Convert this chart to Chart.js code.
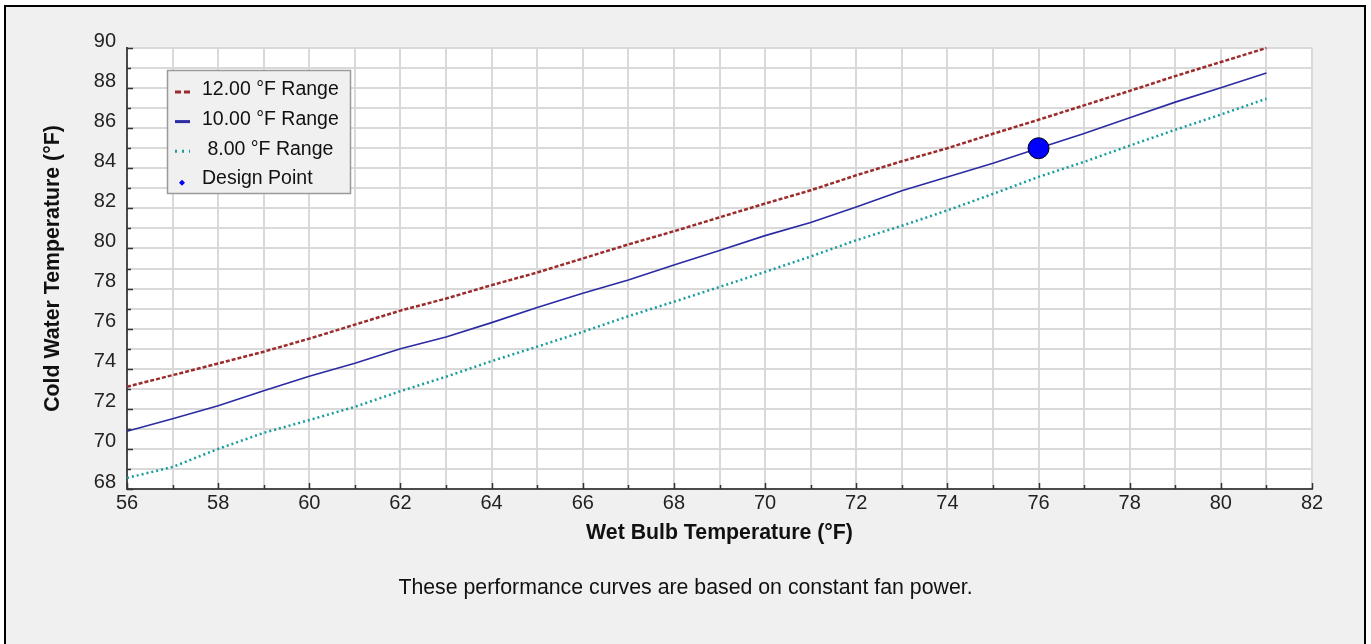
<!DOCTYPE html>
<html>
<head>
<meta charset="utf-8">
<title>Cold Water Temperature vs Wet Bulb</title>
<script src="https://cdn.jsdelivr.net/npm/chart.js@4.4.1/dist/chart.umd.min.js"></script>
<style>
  body { margin: 0; background: #fff; width: 1371px; height: 644px; overflow: hidden; position: relative; font-family: "Liberation Sans", Arial, sans-serif; }
  #moldura { position: absolute; left: 4px; top: 5px; width: 1358px; height: 660px; border: 2px solid #000; background: #f0f0f0; }
  #grafico { position: absolute; left: 0; top: 0; }
  #nota { position: absolute; left: 0; width: 1371px; top: 575px; text-align: center; font-size: 21.3px; color: #111; }
</style>
</head>
<body>
<div id="moldura"></div>
<canvas id="grafico" width="1371" height="644"></canvas>
<div id="nota">These performance curves are based on constant fan power.</div>
<script>
// Data
const wetBulbTemps = [56, 57, 58, 59, 60, 61, 62, 63, 64, 65, 66, 67, 68, 69, 70, 71, 72, 73, 74, 75, 76, 77, 78, 79, 80, 81];
const range12 = [73.1, 73.68, 74.26, 74.85, 75.5, 76.2, 76.9, 77.5, 78.17, 78.8, 79.5, 80.2, 80.86, 81.55, 82.24, 82.9, 83.65, 84.35, 85.0, 85.72, 86.42, 87.14, 87.86, 88.6, 89.3, 90.0];
const range10 = [70.88, 71.5, 72.15, 72.9, 73.62, 74.27, 75.0, 75.58, 76.3, 77.05, 77.76, 78.43, 79.17, 79.9, 80.64, 81.3, 82.07, 82.88, 83.57, 84.25, 85.0, 85.73, 86.52, 87.3, 88.02, 88.75];
const range8 = [68.55, 69.1, 70.0, 70.8, 71.44, 72.1, 72.88, 73.6, 74.38, 75.1, 75.84, 76.62, 77.34, 78.08, 78.83, 79.6, 80.41, 81.13, 81.9, 82.72, 83.57, 84.32, 85.13, 85.92, 86.68, 87.47];
const designPointX = [76];
const designPointY = [85];
const seriesLabels = ['12.00 °F Range', '10.00 °F Range', ' 8.00 °F Range', 'Design Point'];
const xAxis = { min: 56, max: 82, title: 'Wet Bulb Temperature (°F)' };
const yAxis = { min: 68, max: 90, title: 'Cold Water Temperature (°F)' };

const fonte = '"Liberation Sans", Arial, sans-serif';

function pontos(xs, ys) {
    return xs.map((x, i) => ({ x: x, y: ys[i] }));
}

// white plot area, small inward tick marks on the axes + legend box inside the plot
const extras = {
    id: 'extras',
    beforeDraw(chart) {
        const a = chart.chartArea;
        chart.ctx.save();
        chart.ctx.fillStyle = '#ffffff';
        chart.ctx.fillRect(a.left, a.top, a.right - a.left, a.bottom - a.top);
        chart.ctx.restore();
    },
    afterDraw(chart) {
        const c = chart.ctx;
        const area = chart.chartArea;
        const sx = chart.scales.x;
        const sy = chart.scales.y;
        c.save();
        c.strokeStyle = '#333';
        c.lineWidth = 1.5;
        for (let v = yAxis.min; v <= yAxis.max; v++) {
            const py = Math.round(sy.getPixelForValue(v)) + 0.5;
            c.beginPath();
            c.moveTo(area.left, py);
            c.lineTo(area.left + (v % 2 === 0 ? 6 : 4), py);
            c.stroke();
        }
        for (let v = xAxis.min; v <= xAxis.max; v++) {
            const px = Math.round(sx.getPixelForValue(v)) + 0.5;
            c.beginPath();
            c.moveTo(px, area.bottom);
            c.lineTo(px, area.bottom - (v % 2 === 0 ? 6 : 4));
            c.stroke();
        }

        // legend
        const lx = 167.5, ly = 70.5, lw = 183, lh = 123;
        c.fillStyle = '#f0f0f0';
        c.fillRect(lx, ly, lw, lh);
        c.strokeStyle = '#9a9a9a';
        c.lineWidth = 1.5;
        c.strokeRect(lx, ly, lw, lh);

        c.font = '19.5px ' + fonte;
        c.textBaseline = 'middle';
        const sets = chart.data.datasets;
        sets.forEach((ds, i) => {
            const ry = 90 + i * 29.6;
            c.fillStyle = '#111';
            c.fillText(ds.label, 202, ry);
            c.save();
            if (i === 3) {
                c.fillStyle = ds.backgroundColor;
                c.beginPath();
                c.moveTo(182, ry + 1);
                c.lineTo(185, ry + 4);
                c.lineTo(182, ry + 7);
                c.lineTo(179, ry + 4);
                c.closePath();
                c.fill();
            } else {
                c.strokeStyle = ds.borderColor;
                c.lineWidth = 3;
                c.setLineDash(i === 0 ? [6, 3] : (i === 2 ? [2, 5] : []));
                c.beginPath();
                c.moveTo(175, ry + 2);
                c.lineTo(190, ry + 2);
                c.stroke();
            }
            c.restore();
        });
        c.restore();
    }
};

const ctx = document.getElementById('grafico').getContext('2d');
new Chart(ctx, {
    type: 'line',
    data: {
        datasets: [
            {
                label: seriesLabels[0],
                data: pontos(wetBulbTemps, range12),
                borderColor: '#9c2b2b',
                borderWidth: 2.5,
                borderDash: [4, 2],
                pointRadius: 0,
                fill: false,
                clip: false
            },
            {
                label: seriesLabels[1],
                data: pontos(wetBulbTemps, range10),
                borderColor: '#2b2ba3',
                borderWidth: 1.6,
                pointRadius: 0,
                fill: false,
                clip: false
            },
            {
                label: seriesLabels[2],
                data: pontos(wetBulbTemps, range8),
                borderColor: '#169c9c',
                borderWidth: 2.5,
                borderDash: [2, 3],
                pointRadius: 0,
                fill: false,
                clip: false
            },
            {
                type: 'scatter',
                label: seriesLabels[3],
                data: pontos(designPointX, designPointY),
                backgroundColor: '#0000ff',
                borderColor: '#000',
                borderWidth: 1,
                pointRadius: 10.5,
                pointHoverRadius: 10.5,
                order: -1
            }
        ]
    },
    options: {
        responsive: false,
        animation: false,
        layout: { padding: { left: 0, top: 48, right: 59, bottom: 0 } },
        plugins: {
            legend: { display: false },
            tooltip: { enabled: false }
        },
        scales: {
            x: {
                type: 'linear',
                min: xAxis.min,
                max: xAxis.max,
                afterFit: s => { s.height = 155; },
                ticks: {
                    stepSize: 1,
                    autoSkip: false,
                    maxRotation: 0,
                    padding: 2,
                    color: '#222',
                    font: { family: fonte, size: 20 },
                    callback: v => (v % 2 === 0 ? v : '')
                },
                grid: { color: '#d9d9d9', lineWidth: 2, drawTicks: false },
                border: { color: '#4a4a4a', width: 2 },
                title: {
                    display: true,
                    text: xAxis.title,
                    color: '#111',
                    font: { family: fonte, size: 21.3, weight: 'bold' },
                    padding: { top: 0, bottom: 98 }
                }
            },
            y: {
                type: 'linear',
                min: yAxis.min,
                max: yAxis.max,
                afterFit: s => { s.width = 127; },
                ticks: {
                    stepSize: 1,
                    autoSkip: false,
                    padding: 11,
                    labelOffset: -7,
                    color: '#222',
                    font: { family: fonte, size: 20 },
                    callback: v => (v % 2 === 0 ? v : '')
                },
                grid: { color: '#d9d9d9', lineWidth: 2, drawTicks: false },
                border: { color: '#4a4a4a', width: 2 },
                title: {
                    display: true,
                    text: yAxis.title,
                    color: '#111',
                    font: { family: fonte, size: 21.3, weight: 'bold' },
                    padding: { top: 40, bottom: 0 }
                }
            }
        }
    },
    plugins: [extras]
});
</script>
</body>
</html>
